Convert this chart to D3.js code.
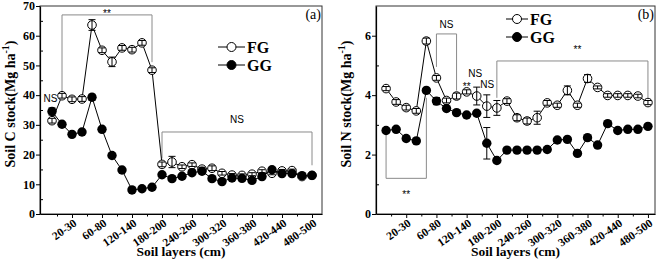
<!DOCTYPE html>
<html>
<head>
<meta charset="utf-8">
<script src="https://cdn.jsdelivr.net/npm/d3@7"></script>
<style>
  body { margin: 0; background: #fff; }
  svg { display: block; }
  .tick text { font-family: "Liberation Serif", "Times New Roman", serif; font-weight: bold; font-size: 12px; fill: #000; }
  .xlab .tick text { font-size: 11.5px; }
  .ttl { font-family: "Liberation Serif", "Times New Roman", serif; font-weight: bold; }
  .ann { font-family: "Liberation Sans", Arial, sans-serif; font-size: 10px; fill: #000; }
</style>
</head>
<body>
<div id="chart"></div>
<script>
// soil layers (cm), 27 depth classes
const layers = ["0-10","10-20","20-30","30-40","40-60","60-80","80-100","100-120","120-140",
  "140-160","160-180","180-200","200-220","220-240","240-260","260-280","280-300","300-320",
  "320-340","340-360","360-380","380-400","400-420","420-440","440-460","460-480","480-500"]

// panel (a) soil C stock (Mg ha-1)
const fgC = [31.4, 39.8, 38.6, 38.7, 63.6, 55.1, 51.2, 55.9, 55.3, 57.6, 48.4, 16.7, 17.5, 15.9,
  16.6, 15.1, 15.4, 13.7, 13.1, 13.0, 13.4, 14.4, 13.7, 14.5, 14.6, 12.6, 13.0]
const ggC = [34.5, 30.2, 26.8, 27.6, 39.3, 28.5, 19.7, 14.8, 8.1, 8.5, 9.0, 13.2, 11.9, 12.7,
  13.9, 14.4, 11.9, 10.9, 12.1, 12.0, 11.3, 12.6, 14.9, 13.6, 13.6, 12.9, 13.0]
const fgCerr = [0.8, 0.8, 0.8, 0.8, 1.8, 0.8, 1.6, 0.8, 0.8, 0.8, 0.8, 0.8, 1.9, 0.6,
  0.6, 0.6, 0.8, 0.6, 0.5, 0.5, 0.5, 0.5, 0.5, 0.5, 0.5, 0.5, 0.5]
const ggCerr = [1.2, 0.5, 0.5, 0.5, 1.0, 0.5, 0.5, 0.5, 0.5, 0.5, 0.5, 0.5, 0.5, 0.5,
  0.5, 0.5, 0.5, 0.5, 0.5, 0.5, 0.5, 0.5, 0.5, 0.5, 0.5, 0.5, 0.5]

// panel (b) soil N stock (Mg ha-1)
const fgN = [4.22, 3.77, 3.58, 3.47, 5.82, 4.58, 3.82, 3.97, 4.11, 3.97, 3.63, 3.57, 3.80, 3.24,
  3.13, 3.24, 3.74, 3.66, 4.16, 3.66, 4.56, 4.26, 3.99, 3.99, 3.99, 3.97, 3.75]
const ggN = [2.81, 2.85, 2.54, 2.46, 4.16, 3.80, 3.55, 3.41, 3.33, 3.39, 2.38, 1.80, 2.15, 2.15,
  2.15, 2.15, 2.17, 2.49, 2.51, 2.04, 2.57, 2.32, 3.04, 2.81, 2.85, 2.85, 2.95]
const fgNerr = [0.07, 0.08, 0.08, 0.08, 0.1, 0.08, 0.08, 0.1, 0.07, 0.3, 0.38, 0.25, 0.08, 0.1,
  0.1, 0.22, 0.08, 0.07, 0.15, 0.07, 0.13, 0.05, 0.06, 0.06, 0.06, 0.06, 0.07]
const ggNerr = [0.05, 0.05, 0.05, 0.05, 0.05, 0.12, 0.05, 0.05, 0.05, 0.05, 0.53, 0.05, 0.05, 0.05,
  0.05, 0.05, 0.05, 0.05, 0.05, 0.05, 0.05, 0.05, 0.05, 0.05, 0.05, 0.05, 0.05]

const labelIdx = [2, 5, 8, 11, 14, 17, 20, 23, 26]
const minorIdx = [0.5, 3.5, 6.5, 9.5, 12.5, 15.5, 18.5, 21.5, 24.5]

// significance brackets: x1/x2 layer index, top/bottom value, ends
const bracketsA = [
  {x1: 1, x2: 10, y: 67, y1: 41.1, y2: 51.1, label: "**", lx: 5.5, ly: 66.3},
  {x1: 11, x2: 26, y: 27.6, y1: 18.7, y2: 16.4, label: "NS", lx: 18.5, ly: 30.5}
]
const textsA = [{x: 0.55, y: 37.6, label: "NS", anchor: "end"}]

const bracketsB = [
  {x1: 5, x2: 7, y: 6.06, y1: 4.95, y2: 4.15, label: "NS", lx: 6, ly: 6.26},
  {x1: 11, x2: 26, y: 5.15, y1: 3.91, y2: 3.91, label: "**", lx: 19, ly: 5.42},
  {x1: 0, x2: 4, y: 1.2, y1: 2.67, y2: 3.91, label: "**", lx: 2, ly: 0.55}
]
const textsB = [
  {x: 8.0, y: 4.18, label: "**", anchor: "middle"},
  {x: 8.85, y: 4.62, label: "NS", anchor: "middle"},
  {x: 10.05, y: 4.25, label: "NS", anchor: "middle"}
]

const svg = d3.select("#chart").append("svg").attr("width", 658).attr("height", 261)

function drawPanel(cfg) {
  const x = d3.scaleLinear().domain(cfg.xDomain).range([cfg.left, cfg.right])
  const y = d3.scaleLinear().domain([0, cfg.yMax]).range([214, 6])
  const g = svg.append("g")

  // frame
  g.append("rect").attr("x", cfg.left).attr("y", 6)
    .attr("width", cfg.right - cfg.left).attr("height", 208)
    .attr("fill", "none").attr("stroke", "#333").attr("stroke-width", 1)

  // axes
  const xa = g.append("g").attr("class", "xlab").attr("transform", "translate(0,214)")
    .call(d3.axisBottom(x).tickValues(labelIdx).tickSize(4).tickSizeOuter(0)
      .tickFormat(i => layers[i]))
  xa.select(".domain").attr("stroke", "#000").attr("stroke-width", 1.2)
  xa.selectAll(".tick text")
    .attr("text-anchor", "end")
    .attr("dy", null).attr("y", null)
    .attr("transform", "translate(5,11) rotate(-35)")
  g.append("g").attr("transform", "translate(0,214)")
    .call(d3.axisBottom(x).tickValues(minorIdx).tickSize(2.5).tickFormat(""))
    .select(".domain").remove()

  const ya = g.append("g").attr("transform", `translate(${cfg.left},0)`)
    .call(d3.axisLeft(y).tickValues(cfg.yTicks).tickSize(4).tickSizeOuter(0).tickPadding(1)
      .tickFormat(d3.format("d")))
  ya.select(".domain").attr("stroke", "#000").attr("stroke-width", 1.2)
  g.append("g").attr("transform", `translate(${cfg.left},0)`)
    .call(d3.axisRight(y).tickValues(cfg.yMinor).tickSize(3).tickFormat(""))
    .select(".domain").remove()

  // titles
  g.append("text").attr("class", "ttl").attr("font-size", 13.5)
    .attr("text-anchor", "middle").attr("x", (cfg.left + cfg.right) / 2).attr("y", 256)
    .text("Soil layers (cm)")
  const yt = g.append("text").attr("class", "ttl").attr("font-size", 14)
    .attr("text-anchor", "middle")
    .attr("transform", `translate(${cfg.left - 25},104) rotate(-90)`)
  yt.append("tspan").text(cfg.yTitle)
  yt.append("tspan").attr("font-size", 10).attr("dy", -6).text("-1")
  yt.append("tspan").attr("dy", 6).text(")")

  g.append("text").attr("font-family", "Liberation Serif, serif").attr("font-size", 14)
    .attr("text-anchor", "end").attr("x", cfg.right - 1).attr("y", 19).text(cfg.tag)

  // brackets
  cfg.brackets.forEach(b => {
    g.append("path")
      .attr("d", `M${x(b.x1)},${y(b.y1)}V${y(b.y)}H${x(b.x2)}V${y(b.y2)}`)
      .attr("fill", "none").attr("stroke", "#8a8a8a").attr("stroke-width", 1)
    g.append("text").attr("class", "ann").attr("text-anchor", "middle")
      .attr("x", x(b.lx)).attr("y", y(b.ly)).text(b.label)
  })
  cfg.texts.forEach(t => {
    g.append("text").attr("class", "ann").attr("text-anchor", t.anchor)
      .attr("x", x(t.x)).attr("y", y(t.y)).text(t.label)
  })

  const line = d3.line().x((d, i) => x(i)).y(d => y(d))
  g.append("path").datum(cfg.fg).attr("d", line)
    .attr("fill", "none").attr("stroke", "#000").attr("stroke-width", 1)
  g.append("path").datum(cfg.gg).attr("d", line)
    .attr("fill", "none").attr("stroke", "#000").attr("stroke-width", 1)

  function errorBars(vals, errs) {
    const eb = g.append("g").attr("stroke", "#000").attr("stroke-width", 1).attr("fill", "none")
    vals.forEach((v, i) => {
      const cx = x(i), t = y(v + errs[i]), b = y(v - errs[i])
      eb.append("path").attr("d", `M${cx},${t}V${b}M${cx - 3.5},${t}H${cx + 3.5}M${cx - 3.5},${b}H${cx + 3.5}`)
    })
  }

  g.append("g").selectAll("circle").data(cfg.fg).join("circle")
    .attr("cx", (d, i) => x(i)).attr("cy", d => y(d)).attr("r", 4.3)
    .attr("fill", "#fff").attr("stroke", "#000").attr("stroke-width", 1)
  errorBars(cfg.fg, cfg.fgErr)
  errorBars(cfg.gg, cfg.ggErr)
  g.append("g").selectAll("circle").data(cfg.gg).join("circle")
    .attr("cx", (d, i) => x(i)).attr("cy", d => y(d)).attr("r", 4.7)
    .attr("fill", "#000")

  // legend
  const lg = cfg.legend
  ;[["FG", "#fff", 0], ["GG", "#000", lg.gap]].forEach(([name, fill, dy]) => {
    g.append("line").attr("x1", lg.x).attr("x2", lg.x + lg.len)
      .attr("y1", lg.y + dy).attr("y2", lg.y + dy).attr("stroke", "#000")
    g.append("circle").attr("cx", lg.x + lg.len / 2).attr("cy", lg.y + dy).attr("r", 4.5)
      .attr("fill", fill).attr("stroke", "#000")
    g.append("text").attr("class", "ttl").attr("font-size", 16)
      .attr("x", lg.x + lg.len + 2).attr("y", lg.y + dy + 5.5).text(name)
  })
}

drawPanel({
  left: 40, right: 322, xDomain: [-1.2, 27], yMax: 70,
  yTicks: [0, 10, 20, 30, 40, 50, 60, 70], yMinor: [5, 15, 25, 35, 45, 55, 65],
  yTitle: "Soil C stock(Mg ha", tag: "(a)",
  fg: fgC, gg: ggC, fgErr: fgCerr, ggErr: ggCerr,
  brackets: bracketsA, texts: textsA,
  legend: {x: 218, y: 47, len: 27, gap: 18}
})

drawPanel({
  left: 376, right: 655, xDomain: [-1, 26.7], yMax: 7,
  yTicks: [0, 2, 4, 6], yMinor: [1, 3, 5],
  yTitle: "Soil N stock(Mg ha", tag: "(b)",
  fg: fgN, gg: ggN, fgErr: fgNerr, ggErr: ggNerr,
  brackets: bracketsB, texts: textsB,
  legend: {x: 506, y: 19, len: 22, gap: 18}
})
</script>
</body>
</html>
